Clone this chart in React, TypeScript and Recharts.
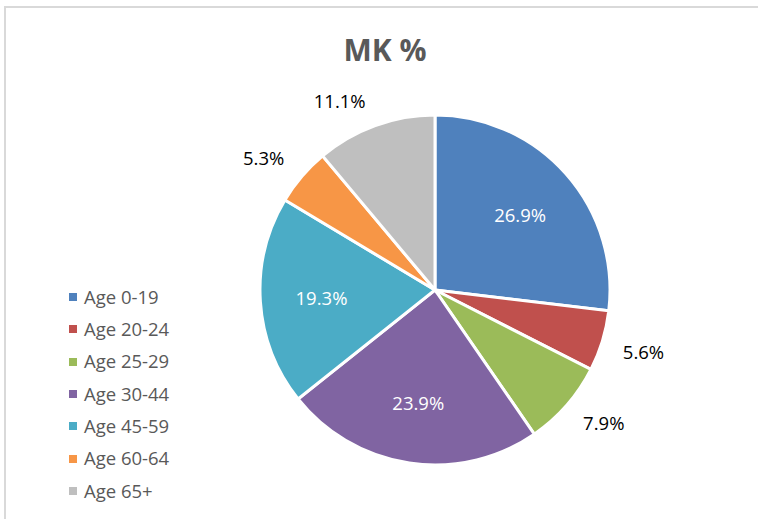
import React from 'react';
import { PieChart, Pie, Cell, Legend } from 'recharts';

const categories = ['Age 0-19', 'Age 20-24', 'Age 25-29', 'Age 30-44', 'Age 45-59', 'Age 60-64', 'Age 65+'];
const shares = [26.9, 5.6, 7.9, 23.9, 19.3, 5.3, 11.1];
const colors = ['#4F81BD', '#C0504D', '#9BBB59', '#8064A2', '#4BACC6', '#F79646', '#BFBFBF'];
const title = 'MK %';

const data = categories.map((name, i) => ({ name, value: shares[i] }));

const FONT = '"Open Sans", "Noto Sans", sans-serif';
const RAD = Math.PI / 180;

const renderLabel = (props: any) => {
  const { cx, cy, midAngle, outerRadius, index } = props;
  const value = shares[index];
  const cos = Math.cos(-midAngle * RAD);
  const sin = Math.sin(-midAngle * RAD);
  const text = `${value.toFixed(1)}%`;
  if (value > 15) {
    const r = outerRadius * 0.65;
    return (
      <text x={cx + r * cos} y={cy + r * sin} textAnchor="middle" dominantBaseline="central"
        fill="#ffffff" fontFamily={FONT} fontSize={18.5}>{text}</text>
    );
  }
  const r = outerRadius * 1.11;
  const px = cx + r * cos;
  const py = cy + r * sin;
  const right = cos >= 0;
  const upper = sin < 0;
  return (
    <text x={px + (right ? 2 : -3)} y={py + (upper ? 1 : 12)} textAnchor={right ? 'start' : 'end'}
      fill="#000000" fontFamily={FONT} fontSize={18.5}>{text}</text>
  );
};

const renderLegend = (props: any) => {
  const payload = props.payload || [];
  return (
    <div>
      {payload.map((p: any, i: number) => (
        <div key={i} style={{ display: 'flex', alignItems: 'center', height: 32.3 }}>
          <div style={{ width: 8, height: 8, background: p.color, marginRight: 7 }} />
          <span style={{ fontFamily: FONT, fontSize: 18.5, color: '#595959', lineHeight: 1, whiteSpace: 'nowrap' }}>{p.value}</span>
        </div>
      ))}
    </div>
  );
};

export default function App() {
  return (
    <div style={{ position: 'absolute', left: 0, top: 0, width: 758, height: 519, overflow: 'hidden', background: '#fff' }}>
      <div style={{ position: 'absolute', left: 4, top: 6, width: 900, height: 700, border: '2px solid #d9d9d9' }} />
      <div style={{ position: 'absolute', left: 0, top: 35, width: 770, textAlign: 'center', fontFamily: FONT, fontWeight: 700, fontSize: 30, lineHeight: 1, color: '#595959' }}>{title}</div>
      <div style={{ position: 'absolute', left: 0, top: 0 }}>
        <PieChart width={758} height={519} margin={{ top: 0, right: 0, bottom: 0, left: 0 }}>
          <Pie data={data} dataKey="value" nameKey="name" cx={435} cy={290} outerRadius={175}
            startAngle={90} endAngle={-270} stroke="#ffffff" strokeWidth={3}
            label={renderLabel} labelLine={false} isAnimationActive={false}>
            {data.map((d, i) => <Cell key={d.name} fill={colors[i]} />)}
          </Pie>
          <Legend layout="vertical" align="center" verticalAlign="middle" content={renderLegend}
            wrapperStyle={{ left: 69, top: 281, width: 200, bottom: 'auto', right: 'auto' }} />
        </PieChart>
      </div>
    </div>
  );
}
